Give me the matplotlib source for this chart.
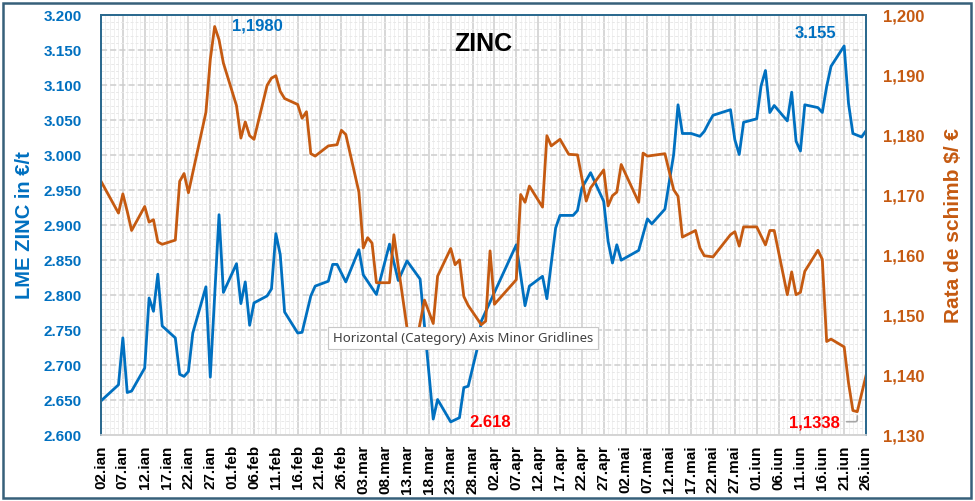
import numpy as np
import pandas as pd
import matplotlib
matplotlib.use('Agg')
import matplotlib.pyplot as plt
import matplotlib.dates as mdates
from matplotlib.patches import Rectangle
from matplotlib.ticker import MultipleLocator, FuncFormatter

plt.rcParams['font.family'] = ['Liberation Sans', 'DejaVu Sans']

# days counted from 02.ian.2025
start = pd.Timestamp('2025-01-02')
end = pd.Timestamp('2025-06-26')
month_ro = ['ian', 'feb', 'mar', 'apr', 'mai', 'iun']

zinc_day = [0, 4, 5, 6, 7, 10, 11, 12, 13, 14, 17, 18, 19, 20, 21, 24, 25, 27, 28,
            31, 32, 33, 34, 35, 38, 39, 40, 41, 42, 45, 46, 48, 49, 52, 53, 54, 56,
            59, 60, 63, 66, 68, 70, 73, 76, 77, 80, 82, 83, 84, 86, 87, 95, 97, 98,
            101, 102, 104, 105, 108, 109, 110, 112, 115, 116, 117, 118, 119, 123,
            125, 126, 129, 131, 132, 133, 135, 137, 138, 139, 140, 144, 145, 146,
            147, 150, 151, 152, 153, 154, 157, 158, 159, 160, 161, 164, 165, 166,
            167, 170, 171, 172, 174, 175]
zinc_eur = [2648, 2671, 2738, 2660, 2662, 2695, 2795, 2776, 2829, 2755, 2738, 2686,
            2683, 2690, 2745, 2811, 2682, 2914, 2803, 2844, 2787, 2818, 2756, 2788,
            2798, 2808, 2887, 2857, 2775, 2745, 2746, 2798, 2812, 2819, 2843, 2843,
            2818, 2864, 2828, 2800, 2872, 2820, 2848, 2822, 2622, 2650, 2618, 2624,
            2667, 2669, 2721, 2762, 2871, 2784, 2812, 2826, 2794, 2895, 2913, 2913,
            2920, 2952, 2974, 2933, 2876, 2845, 2871, 2849, 2863, 2908, 2901, 2922,
            3000, 3071, 3030, 3030, 3026, 3033, 3045, 3056, 3064, 3021, 3000, 3046,
            3051, 3098, 3120, 3060, 3070, 3048, 3089, 3019, 3005, 3071, 3067, 3060,
            3097, 3126, 3155, 3073, 3030, 3025, 3034]

fx_day = [0, 4, 5, 6, 7, 10, 11, 12, 13, 14, 17, 18, 19, 20, 24, 25, 26, 27, 28,
          31, 32, 33, 34, 35, 38, 39, 40, 41, 42, 45, 46, 47, 48, 49, 52, 54, 55,
          56, 59, 60, 61, 62, 63, 66, 67, 68, 70, 71, 72, 74, 76, 77, 80, 81, 82,
          83, 84, 87, 88, 89, 90, 95, 96, 97, 98, 101, 102, 103, 105, 107, 109,
          111, 112, 115, 116, 117, 118, 119, 123, 124, 125, 129, 131, 132, 133,
          136, 137, 138, 140, 144, 145, 146, 147, 150, 152, 153, 154, 157, 158,
          159, 160, 161, 164, 165, 166, 167, 170, 171, 172, 173, 175]
fx_rate = [1.1722, 1.1669, 1.1701, 1.1672, 1.1640, 1.1680, 1.1654, 1.1658, 1.1621,
           1.1617, 1.1624, 1.1722, 1.1735, 1.1703, 1.1837, 1.1925, 1.1980, 1.1958,
           1.1919, 1.1848, 1.1794, 1.1821, 1.1798, 1.1792, 1.1882, 1.1894, 1.1898,
           1.1872, 1.1860, 1.1850, 1.1827, 1.1838, 1.1768, 1.1764, 1.1781, 1.1783,
           1.1807, 1.1800, 1.1704, 1.1611, 1.1628, 1.1619, 1.1553, 1.1553, 1.1633,
           1.1580, 1.1478, 1.1462, 1.1448, 1.1524, 1.1485, 1.1564, 1.1610, 1.1583,
           1.1591, 1.1530, 1.1515, 1.1483, 1.1489, 1.1606, 1.1517, 1.1558, 1.1700,
           1.1687, 1.1714, 1.1679, 1.1798, 1.1781, 1.1792, 1.1767, 1.1766, 1.1689,
           1.1711, 1.1741, 1.1681, 1.1698, 1.1704, 1.1750, 1.1687, 1.1769, 1.1764,
           1.1768, 1.1708, 1.1697, 1.1629, 1.1640, 1.1611, 1.1598, 1.1596, 1.1633,
           1.1638, 1.1614, 1.1646, 1.1646, 1.1616, 1.1640, 1.1640, 1.1533, 1.1571,
           1.1533, 1.1537, 1.1572, 1.1607, 1.1592, 1.1455, 1.1459, 1.1446, 1.1386,
           1.1340, 1.1338, 1.1398]

BLUE = '#0070C0'
ORANGE = '#C55A11'
RED = '#FF0000'
FRAME = '#2C6A8F'

zinc_dates = start + pd.to_timedelta(zinc_day, unit='D')
fx_dates = start + pd.to_timedelta(fx_day, unit='D')

W, H = 975, 502
fig = plt.figure(figsize=(W / 100, H / 100), dpi=100)
ax = fig.add_axes([101 / W, 1 - 435.5 / H, 765 / W, 420 / H])
ax2 = ax.twinx()

# grid
ax.set_xlim(start, end)
ax.set_ylim(2600, 3200)
ticks = pd.date_range(start, end, freq='5D')
ax.set_xticks(ticks)
ax.set_xticklabels([f"{d.day:02d}.{month_ro[d.month - 1]}" for d in ticks],
                   rotation=90, fontsize=11, fontweight='bold')
ax.xaxis.set_minor_locator(mdates.DayLocator())
ax.yaxis.set_major_locator(MultipleLocator(50))
ax.yaxis.set_minor_locator(MultipleLocator(10))
ax.grid(True, which='major', axis='x', color='#D4D4D4', lw=1.3)
ax.grid(True, which='minor', axis='x', color='#F0F0F0', lw=0.7)
ax.grid(True, which='major', axis='y', color='#CDCDCD', lw=1.1, ls=(0, (4, 2)))
ax.grid(True, which='minor', axis='y', color='#E8E8E8', lw=0.7, ls=(0, (3, 2)))
ax.set_axisbelow(True)

ax.yaxis.set_major_formatter(FuncFormatter(lambda v, p: f"{v:,.0f}".replace(',', '.')))
ax.tick_params(axis='y', which='both', length=0, pad=14, labelsize=11, labelcolor=BLUE)
for lab in ax.get_yticklabels():
    lab.set_fontweight('bold')
ax.tick_params(axis='x', which='both', length=0, pad=7)

ax2.set_ylim(1.130, 1.200)
ax2.yaxis.set_major_locator(MultipleLocator(0.01))
ax2.yaxis.set_major_formatter(FuncFormatter(lambda v, p: f"{v:.3f}".replace('.', ',')))
ax2.tick_params(axis='y', length=0, pad=12, labelsize=12, labelcolor=ORANGE)
for lab in ax2.get_yticklabels():
    lab.set_fontweight('bold')

for a in (ax, ax2):
    for side in ('left', 'top', 'right'):
        a.spines[side].set_color(FRAME)
        a.spines[side].set_linewidth(1.4)
    a.spines['bottom'].set_color('#D4D4D4')
    a.spines['bottom'].set_linewidth(1.2)

ax.plot(zinc_dates, zinc_eur, color=BLUE, lw=2.0, solid_joinstyle='round')
ax2.plot(fx_dates, fx_rate, color=ORANGE, lw=2.0, solid_joinstyle='round')

ax.set_ylabel('LME ZINC in €/t', color=BLUE, fontsize=14.5, fontweight='bold', labelpad=7)
ax2.set_ylabel('Rata de schimb $/ €', color=ORANGE, fontsize=15, fontweight='bold', labelpad=14)
ax.set_title('ZINC', fontsize=18, fontweight='bold', y=0.895)

# annotations for extremes
i = int(np.argmax(zinc_eur))
ax.annotate(f"{zinc_eur[i]:,}".replace(',', '.'), (zinc_dates[i], zinc_eur[i]),
            xytext=(-29, 13), textcoords='offset pixels', ha='center', va='center',
            color=BLUE, fontsize=12, fontweight='bold')
i = int(np.argmin(zinc_eur))
ax.annotate(f"{zinc_eur[i]:,}".replace(',', '.'), (zinc_dates[i], zinc_eur[i]),
            xytext=(39, 0), textcoords='offset pixels', ha='center', va='center',
            color=RED, fontsize=12, fontweight='bold')
i = int(np.argmax(fx_rate))
ax2.annotate(f"{fx_rate[i]:.4f}".replace('.', ','), (fx_dates[i], fx_rate[i]),
             xytext=(43, 1), textcoords='offset pixels', ha='center', va='center',
             color=BLUE, fontsize=12, fontweight='bold')
i = int(np.argmin(fx_rate))
ax2.annotate(f"{fx_rate[i]:.4f}".replace('.', ','), (fx_dates[i], fx_rate[i]),
             xytext=(-43, -10), textcoords='offset pixels', ha='center', va='center',
             color=RED, fontsize=12, fontweight='bold',
             arrowprops=dict(arrowstyle='-', color='#A6A6A6', lw=1.2,
                             connectionstyle='angle,angleA=0,angleB=90,rad=2',
                             shrinkA=3, shrinkB=3))

# tooltip seen on the original screenshot
fig.text(333 / W, 1 - 339 / H, 'Horizontal (Category) Axis Minor Gridlines',
         fontsize=9.5, color='#404040', family=['Noto Sans', 'DejaVu Sans'],
         ha='left', va='center', zorder=10,
         bbox=dict(boxstyle='square,pad=0.35', fc='white', ec='#C8C8C8', lw=0.8))

fig.patches.append(Rectangle((3 / W, 3 / H), 968 / W, 495 / H, transform=fig.transFigure,
                             fill=False, ec='#37607A', lw=1.8))

fig.savefig('out.png', dpi=100)
